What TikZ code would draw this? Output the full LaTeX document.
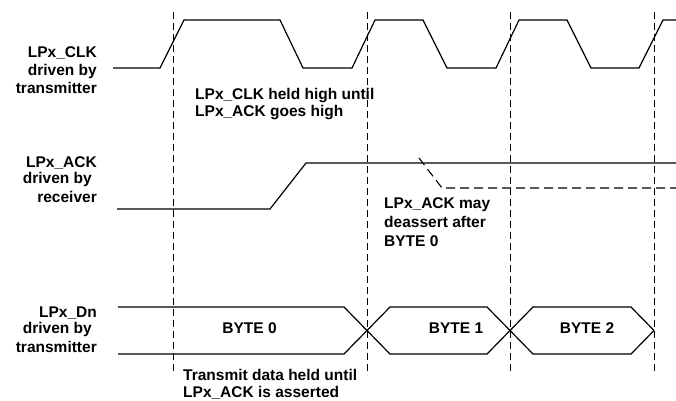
\documentclass[tikz,border=0pt]{standalone}
\usepackage{fontspec}
\setmainfont{Liberation Sans}
\begin{document}
\begin{tikzpicture}[x=1pt,y=-1pt,
  sig/.style={line width=1.2pt, line join=miter},
  gridline/.style={line width=0.9pt, dash pattern=on 7pt off 4pt},
  dsig/.style={line width=1.1pt, dash pattern=on 9pt off 5pt},
  lbl/.style={font=\fontsize{15.5}{18}\selectfont\bfseries, inner sep=0pt}]
\useasboundingbox (0,0) rectangle (676,400);
% dashed time markers
\foreach \x in {173,367,510,654}
  \draw[gridline] (\x,12) -- (\x,375);
% CLK
\draw[sig] (113,68) -- (160,68) -- (184,20) -- (280,20) -- (303,68) -- (352,68)
  -- (375,20) -- (423,20) -- (447,68) -- (496,68) -- (519,20) -- (567,20)
  -- (591,68) -- (639,68) -- (663,20) -- (676,20);
% ACK
\draw[sig] (117,209) -- (270,209) -- (306,163) -- (676,163);
\draw[dsig] (419,158) -- (442,188) -- (676,188);
% Data
\draw[sig] (118,307) -- (344,307) -- (390,354) -- (487,354) -- (533,307) -- (631,307) -- (654,330.5);
\draw[sig] (118,354) -- (344,354) -- (390,307) -- (487,307) -- (533,354) -- (631,354) -- (654,330.5);
% signal labels
\node[lbl, anchor=base east] (clkA) at (97,57) {LPx\_CLK};
\node[lbl, anchor=base east] (clkB) at (97,75) {driven by};
\node[lbl, anchor=base east] (clkC) at (97,93) {transmitter};
\node[lbl, anchor=base east] (ackA) at (97,167) {LPx\_ACK};
\node[lbl, anchor=base east] (ackB) at (92,183) {driven by};
\node[lbl, anchor=base east] (ackC) at (97,202) {receiver};
\node[lbl, anchor=base east] (dnA) at (97,317) {LPx\_Dn};
\node[lbl, anchor=base east] (dnB) at (92,333) {driven by};
\node[lbl, anchor=base east] (dnC) at (97,352) {transmitter};
% annotations
\node[lbl, anchor=base west] (n1a) at (195,99) {LPx\_CLK held high until};
\node[lbl, anchor=base west] (n1b) at (195,116) {LPx\_ACK goes high};
\node[lbl, anchor=base west] (n2a) at (384,208) {LPx\_ACK may};
\node[lbl, anchor=base west] (n2b) at (384,227) {deassert after};
\node[lbl, anchor=base west] (n2c) at (384,246) {BYTE 0};
\node[lbl, anchor=base west] (n3a) at (183,380) {Transmit data held until};
\node[lbl, anchor=base west] (n3b) at (183,397) {LPx\_ACK is asserted};
% byte labels
\node[lbl, anchor=base] (b0) at (249.5,333) {BYTE 0};
\node[lbl, anchor=base] (b1) at (456,333) {BYTE 1};
\node[lbl, anchor=base] (b2) at (587,333) {BYTE 2};
\end{tikzpicture}
\end{document}
